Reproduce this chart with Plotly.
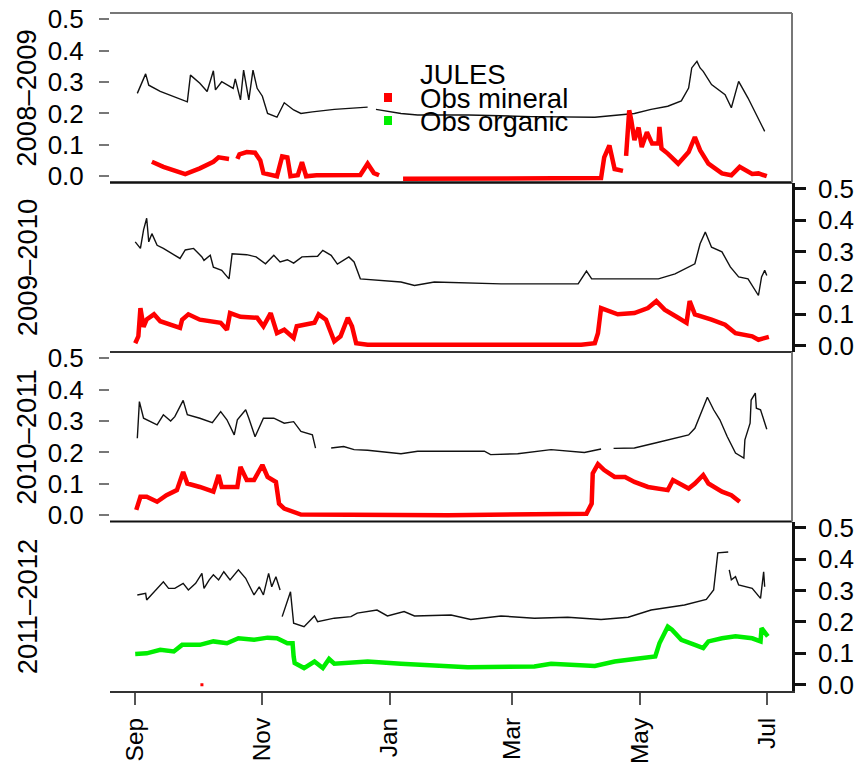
import plotly.graph_objects as go
import pandas as pd

# ---------------- data (day offsets from 1 Sep, volumetric soil moisture) ----------------
season_labels = ["2008–2009", "2009–2010", "2010–2011", "2011–2012"]
month_ticks = ["Sep", "Nov", "Jan", "Mar", "May", "Jul"]
month_tick_dates = ["2009-09-01", "2009-11-01", "2010-01-01", "2010-03-01", "2010-05-01", "2010-07-01"]
y_ticks = [0.0, 0.1, 0.2, 0.3, 0.4, 0.5]
y_tick_text = ["0.0", "0.1", "0.2", "0.3", "0.4", "0.5"]

p1_jules_day = [1, 5, 6.5, 12, 25, 26.5, 31, 34.5, 37.5, 38.5, 41.5, 47, 48, 50.5, 52, 54.5, 56.5, 58.5, 61, 63.5,
                68, 71.5, 76, 79.5, 85, 95.5, 111.5, 113, 115.5, 127.5, 135.5, 160, 190, 220.5, 239.5, 247.5,
                255.5, 262, 265.5, 267, 269.5, 271, 272.5, 276.5, 283, 286, 289.5, 294, 302]
p1_jules_val = [0.264, 0.326, 0.29, 0.27, 0.237, 0.322, 0.296, 0.27, 0.336, 0.275, 0.301, 0.28, 0.31, 0.243, 0.338,
                0.243, 0.338, 0.28, 0.255, 0.2, 0.188, 0.234, 0.211, 0.2, 0.205, 0.213, 0.22, None, 0.213, 0.2,
                0.195, 0.195, 0.19, 0.188, 0.2, 0.213, 0.223, 0.24, 0.281, 0.345, 0.366, 0.345, 0.334, 0.292,
                0.26, 0.218, 0.302, 0.249, 0.143]
p1_obs_day = [8, 13.5, 24, 31, 37.5, 40, 45, 47, 49, 50, 53.5, 57.5, 60, 61.5, 68, 70.5, 73, 74.5, 78, 80, 82, 87,
              108, 111.5, 114.5, 117, 122, 128.5, 180, 223.5, 225, 227.5, 230, 234, 235, 235.5, 237, 238, 239.5,
              241.5, 243, 245.5, 248, 251, 251.5, 252.5, 255.5, 260.5, 265.5, 268.5, 271, 275, 281.5, 286, 290,
              296, 299, 303]
p1_obs_val = [0.046, 0.03, 0.007, 0.025, 0.046, 0.06, 0.055, None, 0.055, 0.07, 0.077, 0.075, 0.05, 0.01, 0.0,
              0.063, 0.06, 0.0, 0.003, 0.045, 0.0, 0.003, 0.004, 0.04, 0.01, 0.003, None, -0.008, -0.008, -0.006,
              0.06, 0.098, 0.023, 0.017, None, 0.065, 0.21, 0.178, 0.115, 0.155, 0.093, 0.14, 0.104, 0.104, 0.157,
              0.088, 0.072, 0.04, 0.077, 0.125, 0.083, 0.04, 0.009, 0.003, 0.03, 0.007, 0.009, 0.0]

p2_jules_day = [0, 2.5, 4, 5.5, 6.5, 8, 10.5, 13.5, 21.5, 24, 28, 32, 33, 36, 37.5, 41.5, 45, 46.5, 53.5, 58, 62.5,
                66.5, 69.5, 73, 76, 80, 87.5, 90, 94, 97, 102.5, 105, 108, 116, 127.5, 134, 142, 143.5, 175.5,
                212.5, 216.5, 219, 239.5, 251, 259, 268.5, 271, 273.5, 276.5, 281.5, 285.5, 289.5, 294, 299,
                300.5, 302, 303]
p2_jules_val = [0.331, 0.31, 0.369, 0.406, 0.331, 0.357, 0.32, 0.31, 0.278, 0.305, 0.31, 0.283, 0.272, 0.288,
                0.25, 0.24, 0.213, 0.293, 0.29, 0.283, 0.261, 0.288, 0.267, 0.274, 0.263, 0.283, 0.285, 0.304,
                0.288, 0.26, 0.283, 0.267, 0.213, 0.208, 0.203, 0.192, 0.2, 0.203, 0.197, 0.197, 0.238, 0.213,
                0.213, 0.213, 0.229, 0.261, 0.325, 0.362, 0.314, 0.299, 0.251, 0.219, 0.213, 0.16, 0.219, 0.24,
                0.224]
p2_obs_day = [0, 1.5, 2.5, 4, 5.5, 9, 12, 18.5, 21.5, 22.5, 25.5, 31, 41, 44, 45.5, 50.5, 58.5, 61.5, 65, 68,
              71.5, 76, 77.5, 86, 88, 91.5, 95.5, 98.5, 102, 104, 106, 111.5, 150, 214, 220.5, 222, 223.5, 227,
              231.5, 239.5, 246, 250, 254, 260.5, 264.5, 266, 268.5, 276.5, 283, 288, 296, 299, 304]
p2_obs_val = [0.008, 0.03, 0.12, 0.06, 0.084, 0.1, 0.078, 0.062, 0.057, 0.083, 0.1, 0.083, 0.073, 0.051, 0.104,
              0.092, 0.089, 0.062, 0.104, 0.04, 0.051, 0.025, 0.062, 0.073, 0.1, 0.083, 0.014, 0.03, 0.089, 0.062,
              0.008, 0.003, 0.002, 0.003, 0.008, 0.04, 0.12, 0.11, 0.1, 0.104, 0.12, 0.142, 0.115, 0.089, 0.073,
              0.142, 0.1, 0.083, 0.067, 0.04, 0.03, 0.019, 0.028]

p3_jules_day = [1, 2, 4, 10.5, 13.5, 17, 19, 23, 25, 31, 37, 41, 44, 47.5, 49, 53, 54.5, 57.5, 61.5, 66.5, 71.5,
                76, 79.5, 85, 86.5, 90, 94, 100, 105, 111.5, 127.5, 135.5, 167.5, 170.5, 183.5, 199.5, 215.5,
                223.5, 226, 229.5, 239.5, 249.5, 259, 265.5, 268.5, 272, 274.5, 277.5, 280.5, 284, 288, 292,
                292.5, 295, 295.5, 297.5, 298, 300, 303]
p3_jules_val = [0.245, 0.362, 0.309, 0.288, 0.32, 0.3, 0.314, 0.366, 0.32, 0.309, 0.295, 0.33, 0.304, 0.256,
                0.304, 0.336, 0.309, 0.25, 0.309, 0.309, 0.293, 0.298, 0.267, 0.256, 0.214, None, 0.214, 0.219,
                0.209, 0.207, 0.196, 0.204, 0.204, 0.193, 0.196, 0.209, 0.2, 0.211, None, 0.213, 0.214, 0.23,
                0.246, 0.256, 0.277, 0.336, 0.376, 0.336, 0.304, 0.251, 0.198, 0.182, 0.24, 0.293, 0.367, 0.389,
                0.341, 0.336, 0.274]
p3_obs_day = [0.5, 2.5, 5.5, 10.5, 15, 20, 23, 25, 31, 37.5, 40, 41.5, 49, 50.5, 53.5, 57, 61, 63.5, 67.5, 69,
              71.5, 76, 79.5, 150, 216.5, 219, 219.5, 222, 225, 230, 235, 239.5, 246, 255.5, 258, 265.5, 268.5,
              272.5, 275, 281.5, 286, 290]
p3_obs_val = [0.017, 0.059, 0.059, 0.043, 0.064, 0.08, 0.138, 0.101, 0.09, 0.075, 0.128, 0.09, 0.09, 0.154,
              0.112, 0.112, 0.16, 0.122, 0.106, 0.037, 0.021, 0.01, 0.002, 0.0, 0.005, 0.037, 0.133, 0.163,
              0.144, 0.122, 0.122, 0.106, 0.09, 0.08, 0.112, 0.085, 0.101, 0.128, 0.101, 0.075, 0.064, 0.043]

p4_jules_day = [1, 5, 5.5, 9, 13.5, 16, 19, 23, 25.5, 29, 32, 33, 35.5, 37.5, 40, 42.5, 45.5, 49.5, 53, 57, 59.5,
                61.5, 64, 65.5, 67.5, 69.5, 70, 70.5, 74.5, 76, 81, 86, 87.5, 95.5, 103.5, 106.5, 116, 121, 129,
                134, 151.5, 161, 175.5, 191.5, 207.5, 223.5, 236.5, 247.5, 263.5, 274, 277.5, 279.5, 284.5,
                284.7, 285, 286, 288, 289.5, 296, 300, 301.5, 302]
p4_jules_val = [0.286, 0.291, 0.27, 0.296, 0.328, 0.307, 0.307, 0.323, 0.302, 0.323, 0.355, 0.307, 0.334, 0.35,
                0.334, 0.36, 0.334, 0.366, 0.339, 0.286, 0.312, 0.286, 0.355, 0.312, 0.344, 0.302, None, 0.217,
                0.296, 0.196, 0.185, 0.219, 0.201, 0.212, 0.217, 0.228, 0.238, 0.219, 0.233, 0.219, 0.222, 0.208,
                0.219, 0.212, 0.215, 0.208, 0.215, 0.238, 0.254, 0.272, 0.302, 0.42, 0.423, None, 0.366, 0.334,
                0.344, 0.318, 0.307, 0.275, 0.36, 0.312]
p4_org_day = [0, 5.5, 12, 18.5, 22.5, 31, 37.5, 44, 49.5, 57, 63.5, 68, 73, 75.5, 76, 76.5, 81, 86, 90, 93, 95.5,
              111.5, 127.5, 159.5, 191.5, 199.5, 220.5, 230, 239.5, 249.5, 251.5, 255.5, 257.5, 262, 268.5,
              272.5, 275, 281.5, 288, 296, 300, 300.5, 303.5]
p4_org_val = [0.098, 0.1, 0.111, 0.106, 0.127, 0.127, 0.138, 0.132, 0.148, 0.143, 0.15, 0.148, 0.132, 0.132,
              0.09, 0.069, 0.053, 0.074, 0.053, 0.082, 0.067, 0.074, 0.067, 0.056, 0.058, 0.067, 0.06, 0.074,
              0.082, 0.09, 0.132, 0.185, 0.175, 0.143, 0.127, 0.117, 0.138, 0.148, 0.154, 0.148, 0.138, 0.18,
              0.154]
p4_min_day = [32]
p4_min_val = [0.0]

# ---------------- figure ----------------
base = pd.Timestamp("2009-09-01")


def to_dates(days):
    return [base + pd.Timedelta(days=d) for d in days]


PL, PR, PT, PB = 110, 792, 13, 691


def px_x(x):
    return (x - PL) / (PR - PL)


def px_y(y):
    return (PB - y) / (PB - PT)


FONT = "Liberation Sans, Arial, Helvetica, sans-serif"
BLACK = "#111111"
RED = "#ff0000"
GREEN = "#00ee00"

fig = go.Figure()
panels = [
    (p1_jules_day, p1_jules_val, p1_obs_day, p1_obs_val, RED),
    (p2_jules_day, p2_jules_val, p2_obs_day, p2_obs_val, RED),
    (p3_jules_day, p3_jules_val, p3_obs_day, p3_obs_val, RED),
    (p4_jules_day, p4_jules_val, p4_org_day, p4_org_val, GREEN),
]
for i, (jd, jv, od, ov, col) in enumerate(panels):
    yname = "y" if i == 0 else f"y{i+1}"
    fig.add_trace(go.Scatter(x=to_dates(jd), y=jv, mode="lines", xaxis="x", yaxis=yname,
                             line=dict(color=BLACK, width=1.4), showlegend=False, hoverinfo="skip"))
    fig.add_trace(go.Scatter(x=to_dates(od), y=ov, mode="lines", xaxis="x", yaxis=yname,
                             line=dict(color=col, width=4.5), showlegend=False, hoverinfo="skip"))
fig.add_trace(go.Scatter(x=to_dates(p4_min_day), y=p4_min_val, mode="markers", xaxis="x", yaxis="y4",
                         marker=dict(color=RED, size=3, symbol="square"), showlegend=False, hoverinfo="skip"))

tickfont = dict(family=FONT, size=26, color="#000000")
for i in range(4):
    key = "yaxis" if i == 0 else f"yaxis{i+1}"
    d0 = 0.75 - 0.25 * i
    right = (i % 2 == 1)
    ax = dict(domain=[d0, d0 + 0.25], range=[-0.02, 0.52], anchor="x", automargin=False,
              side="right" if right else "left",
              tickvals=y_ticks, ticktext=y_tick_text, ticks="outside",
              ticklen=11 if right else 10, tickwidth=2.5 if right else 2,
              tickcolor="#111111" if right else "#777777",
              showline=right, linecolor="#111111", linewidth=2.5,
              showgrid=False, zeroline=False, tickfont=tickfont,
              ticklabelstandoff=7 if right else 10)
    fig.update_layout({key: ax})

x0 = base - pd.Timedelta(days=12.1)
x1 = pd.Timestamp("2010-07-01") + pd.Timedelta(days=12.1)
fig.update_layout(xaxis=dict(type="date", range=[x0, x1], anchor="y4", domain=[0, 1], automargin=False,
                             tickvals=month_tick_dates, ticktext=month_ticks, tickangle=-90,
                             ticks="outside", ticklen=12, tickwidth=2, tickcolor="#555555",
                             showline=True, linecolor="#333333", linewidth=2,
                             showgrid=False, zeroline=False,
                             tickfont=dict(family=FONT, size=24.5, color="#000000"), ticklabelstandoff=3))

shapes = []
# horizontal frame lines
for ypx, colr, w in [(13, "#777777", 2), (182.5, "#111111", 2.5), (352, "#333333", 2), (521.5, "#111111", 2)]:
    shapes.append(dict(type="line", xref="paper", yref="paper", x0=0, x1=1, y0=px_y(ypx), y1=px_y(ypx),
                       line=dict(color=colr, width=w), layer="above"))
# right frame on left-axis panels
for ya, yb in [(13, 182.5), (352, 521.5)]:
    shapes.append(dict(type="line", xref="paper", yref="paper", x0=1, x1=1, y0=px_y(ya), y1=px_y(yb),
                       line=dict(color="#777777", width=2), layer="above"))
# legend symbols
shapes.append(dict(type="rect", xref="paper", yref="paper", x0=px_x(384), x1=px_x(392), y0=px_y(102), y1=px_y(93),
                   fillcolor=RED, line=dict(width=0)))
shapes.append(dict(type="rect", xref="paper", yref="paper", x0=px_x(384), x1=px_x(392), y0=px_y(125), y1=px_y(116),
                   fillcolor=GREEN, line=dict(width=0)))

annotations = []
for i, lab in enumerate(season_labels):
    yc = PT + 169.5 * i + 84.75
    annotations.append(dict(text=lab, xref="paper", yref="paper", x=px_x(27), y=px_y(yc), textangle=-90,
                            showarrow=False, xanchor="center", yanchor="middle",
                            font=dict(family=FONT, size=27.5, color="#000000")))
for txt, ypx in [("JULES", 74), ("Obs mineral", 98), ("Obs organic", 121)]:
    annotations.append(dict(text=txt, xref="paper", yref="paper", x=px_x(418), y=px_y(ypx),
                            showarrow=False, xanchor="left", yanchor="middle",
                            font=dict(family=FONT, size=27.5, color="#000000")))

fig.update_layout(width=855, height=764, autosize=False,
                  margin=dict(l=PL, r=855 - PR, t=PT, b=764 - PB, pad=0, autoexpand=False),
                  paper_bgcolor="white", plot_bgcolor="white",
                  shapes=shapes, annotations=annotations, showlegend=False)

fig.write_html("out.html")
